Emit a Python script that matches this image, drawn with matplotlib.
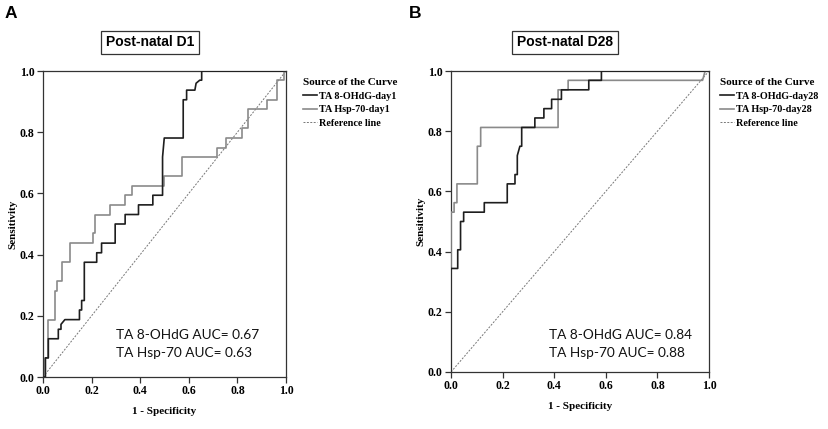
import matplotlib
matplotlib.use("Agg")
import matplotlib.pyplot as plt

# ROC corner points
d1_ohdg_fpr = [0, 0.01, 0.01, 0.022, 0.022, 0.063, 0.063, 0.074, 0.074, 0.09, 0.15, 0.15, 0.159, 0.159,
               0.17, 0.17, 0.221, 0.221, 0.241, 0.241, 0.297, 0.297, 0.338, 0.338, 0.393, 0.393, 0.452,
               0.452, 0.492, 0.492, 0.499, 0.577, 0.577, 0.591, 0.591, 0.625, 0.63, 0.645, 0.653, 0.653, 1.0]
d1_ohdg_tpr = [0, 0, 0.0625, 0.0625, 0.125, 0.125, 0.156, 0.156, 0.172, 0.1875, 0.1875, 0.219, 0.219, 0.25,
               0.25, 0.375, 0.375, 0.406, 0.406, 0.4375, 0.4375, 0.5, 0.5, 0.531, 0.531, 0.5625, 0.5625,
               0.594, 0.594, 0.719, 0.781, 0.781, 0.906, 0.906, 0.9375, 0.9375, 0.96, 0.97, 0.97, 1.0, 1.0]

d1_hsp_fpr = [0, 0.008, 0.008, 0.022, 0.022, 0.049, 0.049, 0.059, 0.059, 0.077, 0.077, 0.111, 0.111,
              0.205, 0.205, 0.215, 0.215, 0.274, 0.274, 0.338, 0.338, 0.366, 0.366, 0.497, 0.497, 0.571,
              0.571, 0.715, 0.715, 0.753, 0.753, 0.818, 0.818, 0.845, 0.845, 0.923, 0.923, 0.962, 0.962,
              0.99, 0.99, 1.0]
d1_hsp_tpr = [0, 0, 0.0625, 0.0625, 0.1875, 0.1875, 0.281, 0.281, 0.3125, 0.3125, 0.375, 0.375, 0.4375,
              0.4375, 0.469, 0.469, 0.531, 0.531, 0.5625, 0.5625, 0.594, 0.594, 0.625, 0.625, 0.656, 0.656,
              0.719, 0.719, 0.75, 0.75, 0.781, 0.781, 0.8125, 0.8125, 0.875, 0.875, 0.906, 0.906, 0.969,
              0.969, 1.0, 1.0]

d28_ohdg_fpr = [0, 0, 0.026, 0.026, 0.037, 0.037, 0.049, 0.049, 0.129, 0.129, 0.218, 0.218, 0.248, 0.248,
                0.257, 0.257, 0.267, 0.274, 0.274, 0.325, 0.325, 0.36, 0.36, 0.39, 0.39, 0.428, 0.428,
                0.534, 0.534, 0.583, 0.583, 1.0]
d28_ohdg_tpr = [0, 0.344, 0.344, 0.406, 0.406, 0.5, 0.5, 0.531, 0.531, 0.5625, 0.5625, 0.625, 0.625, 0.656,
                0.656, 0.719, 0.75, 0.75, 0.8125, 0.8125, 0.844, 0.844, 0.875, 0.875, 0.906, 0.906, 0.9375,
                0.9375, 0.969, 0.969, 1.0, 1.0]

d28_hsp_fpr = [0, 0, 0.012, 0.012, 0.023, 0.023, 0.102, 0.102, 0.115, 0.115, 0.415, 0.415, 0.454, 0.454,
               0.975, 0.985, 1.0]
d28_hsp_tpr = [0, 0.531, 0.531, 0.5625, 0.5625, 0.625, 0.625, 0.75, 0.75, 0.8125, 0.8125, 0.9375, 0.9375,
               0.969, 0.969, 1.0, 1.0]

panels = [
    dict(letter="A", title="Post-natal D1", day="day1", auc=("0.67", "0.63"),
         ohdg=(d1_ohdg_fpr, d1_ohdg_tpr), hsp=(d1_hsp_fpr, d1_hsp_tpr)),
    dict(letter="B", title="Post-natal D28", day="day28", auc=("0.84", "0.88"),
         ohdg=(d28_ohdg_fpr, d28_ohdg_tpr), hsp=(d28_hsp_fpr, d28_hsp_tpr)),
]

W, H = 829, 429
fig = plt.figure(figsize=(W / 100, H / 100), dpi=100)

# axes boxes in pixels: left, top, right, bottom
boxes = [(43, 71, 286, 377), (451, 71, 709, 372)]
title_x = [150, 565]
letter_x = [5, 409]
legend_x = [303, 720]
auc_xy = [(116, 339, 357), (549, 339, 357)]

serif = "Liberation Serif"
tick_font = dict(family=serif, weight="bold", size=8.5)

for p, (l, t, r, b), tx, lx, gx, (ax_, ay1, ay2) in zip(panels, boxes, title_x, letter_x, legend_x, auc_xy):
    w, h = r - l, b - t
    ax = fig.add_axes([l / W, (H - b) / H, w / W, h / H])
    ax.plot([0, 1], [0, 1], color="#777777", lw=0.7, ls=(0, (2, 1.5)), label="Reference line")
    ax.plot(*p["hsp"], color="#8a8a8a", lw=1.2, label="TA Hsp-70-" + p["day"], zorder=3)
    ax.plot(*p["ohdg"], color="#1e1e1e", lw=1.2, label="TA 8-OHdG-" + p["day"], zorder=4)
    ax.set_xlim(0, 1)
    ax.set_ylim(0, 1)
    ticks = [0, 0.2, 0.4, 0.6, 0.8, 1.0]
    tlabels = ["0.0", "0.2", "0.4", "0.6", "0.8", "1.0"]
    ax.set_xticks(ticks)
    ax.set_yticks(ticks)
    ax.set_xticklabels(tlabels, **tick_font)
    ax.set_yticklabels(tlabels, **tick_font)
    ax.tick_params(direction="out", length=4, width=0.9, color="#333333", pad=2)
    for s in ax.spines.values():
        s.set_color("#333333")
        s.set_linewidth(0.9)
    ax.set_xlabel("1 - Specificity", family=serif, weight="bold", size=8, labelpad=7)
    ax.set_ylabel("Sensitivity", family=serif, weight="bold", size=8, labelpad=2)

    ax.text((ax_ - l) / w, (b - ay1) / h, "TA 8-OHdG AUC= " + p["auc"][0], transform=ax.transAxes,
            family="Lato", size=9.8, color="#111111", va="baseline")
    ax.text((ax_ - l) / w, (b - ay2) / h, "TA Hsp-70 AUC= " + p["auc"][1], transform=ax.transAxes,
            family="Lato", size=9.8, color="#111111", va="baseline")

    hnd, lab = ax.get_legend_handles_labels()
    order = [2, 1, 0]
    ax.legend([hnd[i] for i in order], [lab[i] for i in order],
              title="Source of the Curve", loc="upper left",
              bbox_to_anchor=((gx - l) / w, (b - 78) / h),
              frameon=False, handlelength=1.4, handletextpad=0.2, labelspacing=0.45,
              borderpad=0, borderaxespad=0, alignment="left",
              prop=dict(family=serif, weight="bold", size=7.3),
              title_fontproperties=dict(family=serif, weight="bold", size=8))

    fig.text(tx / W, 1 - 42.5 / H, p["title"], ha="center", va="center",
             family="Liberation Sans", weight="bold", size=10,
             bbox=dict(boxstyle="square,pad=0.35", fc="white", ec="#333333", lw=0.9))
    fig.text(lx / W, 1 - 14 / H, p["letter"], ha="left", va="center",
             family="Liberation Sans", weight="bold", size=12.5)

fig.savefig("out.png", dpi=100, facecolor="white")
